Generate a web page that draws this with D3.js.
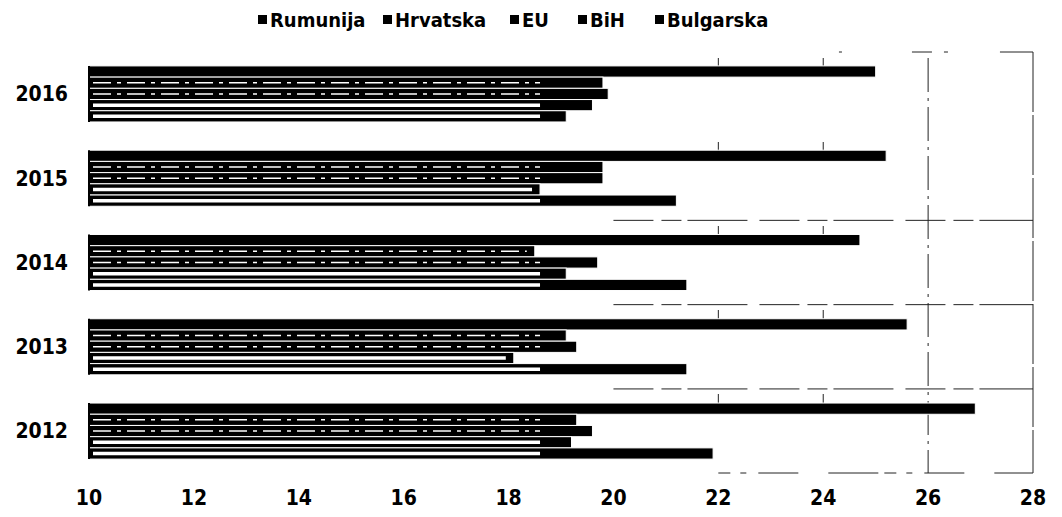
<!DOCTYPE html>
<html>
<head>
<meta charset="utf-8">
<script src="https://cdnjs.cloudflare.com/ajax/libs/d3/7.8.5/d3.min.js"></script>
<style>
  body { margin: 0; background: #fff; }
  svg text { font-family: "Liberation Sans Narrow", "DejaVu Sans Condensed", "Liberation Sans", sans-serif; font-weight: bold; fill: #000; }
</style>
</head>
<body>
<div id="chart"></div>
<script>
var years = ['2016', '2015', '2014', '2013', '2012'];
var series = ['Rumunija', 'Hrvatska', 'EU', 'BiH', 'Bulgarska'];
// values per series, in order of years above
var rumunija  = [25.0, 25.2, 24.7, 25.6, 26.9];
var hrvatska  = [19.8, 19.8, 18.5, 19.1, 19.3];
var eu        = [19.9, 19.8, 19.7, 19.3, 19.6];
var bih       = [19.6, 18.6, 19.1, 18.1, 19.2];
var bulgarska = [19.1, 21.2, 21.4, 21.4, 21.9];
var xTicks = [10, 12, 14, 16, 18, 20, 22, 24, 26, 28];

var values = [rumunija, hrvatska, eu, bih, bulgarska];
var rows = [];
years.forEach((y, i) => {
    series.forEach((s, j) => {
        rows.push({ year: y, series: s, idx: j, value: values[j][i] });
    });
});

var width = 1062, height = 517;
var svg = d3.select('#chart').append('svg')
    .attr('width', width)
    .attr('height', height);

var x = d3.scaleLinear().domain([10, 28]).range([89, 1033]);
var y0 = d3.scaleBand().domain(years).range([52, 473]).paddingInner(0.335).paddingOuter(0.165);
var y1 = d3.scaleBand().domain(series).range([0, y0.bandwidth()]);
var step = y0.step();

// worn-out grid of the scanned original
var grid = svg.append('g').attr('stroke', '#222').attr('stroke-width', 1).attr('fill', 'none');
grid.append('line')
    .attr('x1', x(28)).attr('x2', x(28)).attr('y1', 52).attr('y2', 473)
    .attr('stroke-dasharray', '60,3');
grid.append('line')
    .attr('x1', x(24.3)).attr('x2', x(28)).attr('y1', 52).attr('y2', 52)
    .attr('stroke-dasharray', '3,70,20,12,4,52,42,30');
grid.append('line')
    .attr('x1', x(22)).attr('x2', x(28)).attr('y1', 473).attr('y2', 473)
    .attr('stroke-dasharray', '12,10,6,12,40,30,50,6');
grid.selectAll('line.sep')
    .data(years.slice(1, 5))
    .enter().append('line')
    .attr('class', 'sep')
    .attr('x1', x(20)).attr('x2', x(28))
    .attr('y1', d => y0(d) - y0.paddingInner() * step / 2)
    .attr('y2', d => y0(d) - y0.paddingInner() * step / 2)
    .attr('stroke-dasharray', (d, i) => i === 0 ? '0,1000' : '40,8,20,6,60,12');
grid.selectAll('line.v')
    .data([22, 24, 26])
    .enter().append('line')
    .attr('class', 'v')
    .attr('x1', d => x(d)).attr('x2', d => x(d))
    .attr('y1', 58).attr('y2', 473)
    .attr('stroke-dasharray', d => d === 26 ? '34,6,3,6' : '10,74');

var groups = svg.append('g').selectAll('g')
    .data(years)
    .enter().append('g')
    .attr('transform', d => `translate(0,${y0(d)})`);

groups.selectAll('rect.bar')
    .data(d => rows.filter(r => r.year === d))
    .enter().append('rect')
    .attr('class', 'bar')
    .attr('x', x(10))
    .attr('y', d => y1(d.series))
    .attr('width', d => x(d.value) - x(10))
    .attr('height', y1.bandwidth())
    .attr('fill', '#000')
    .attr('stroke', '#fff')
    .attr('stroke-width', 1);

// scan-like white stripes inside bars
groups.selectAll('line.stripe')
    .data(d => rows.filter(r => r.year === d && r.idx > 0))
    .enter().append('line')
    .attr('class', 'stripe')
    .attr('x1', x(10) + 4)
    .attr('x2', d => Math.min(x(d.value) - 8, x(18.6)))
    .attr('y1', d => y1(d.series) + y1.bandwidth() / 2)
    .attr('y2', d => y1(d.series) + y1.bandwidth() / 2)
    .attr('stroke', '#fff')
    .attr('stroke-width', d => d.idx >= 3 ? 3.5 : 1.5)
    .attr('stroke-dasharray', d => d.idx >= 3 ? null : '18,6,4,6');

// left edge
svg.append('g').selectAll('line')
    .data(years)
    .enter().append('line')
    .attr('x1', x(10)).attr('x2', x(10))
    .attr('y1', d => y0(d)).attr('y2', d => y0(d) + y0.bandwidth())
    .attr('stroke', '#000').attr('stroke-width', 2);

// year labels
svg.append('g').selectAll('text')
    .data(years)
    .enter().append('text')
    .attr('x', 68)
    .attr('y', d => y0(d) + y0.bandwidth() / 2)
    .attr('dy', '0.35em')
    .attr('text-anchor', 'end')
    .style('font-size', '21px')
    .text(d => d);

// x tick labels
svg.append('g').selectAll('text')
    .data(xTicks)
    .enter().append('text')
    .attr('x', d => x(d))
    .attr('y', 505)
    .attr('text-anchor', 'middle')
    .style('font-size', '21px')
    .text(d => d);

// legend
var legendX = [258, 383, 510, 578, 655];
var legend = svg.append('g').selectAll('g')
    .data(series)
    .enter().append('g')
    .attr('transform', (d, i) => `translate(${legendX[i]},20)`);
legend.append('rect')
    .attr('x', 0).attr('y', -5)
    .attr('width', 9).attr('height', 9)
    .attr('fill', '#000');
legend.append('text')
    .attr('x', 12)
    .attr('dy', '0.35em')
    .style('font-size', '20px')
    .text(d => d);
</script>
</body>
</html>
